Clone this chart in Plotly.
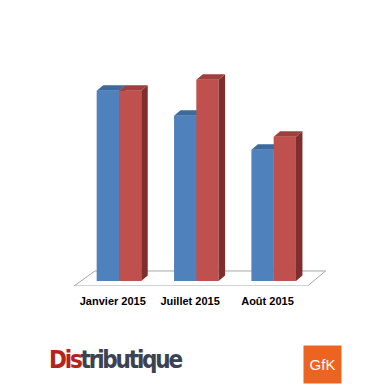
import plotly.graph_objects as go

# ---- data ----
categories = ["Janvier 2015", "Juillet 2015", "Août 2015"]
blue_values = [190, 165, 131]
red_values = [190, 201, 144]

# ---- style / geometry constants ----
BLUE_FRONT, BLUE_TOP, BLUE_SIDE = "#4F81BD", "#3D6A9E", "#385D8A"
RED_FRONT, RED_TOP, RED_SIDE = "#C0504D", "#A03F3C", "#7E2F2D"
W = 0.288      # bar width (category units)
DX = 0.084     # 3D depth in x (category units)
DY = 5.5       # 3D depth in y (value units)
XR = [-1.538, 3.478]
YR = [-5, 280.7]
H_PX, B_MARGIN = 388, 102.3

xs = list(range(len(categories)))


def faces(values, offset):
    tops_x, tops_y, side_x, side_y = [], [], [], []
    for x, v in zip(xs, values):
        x0 = x + offset
        x1 = x0 + W
        tops_x += [x0, x0 + DX, x1 + DX, x1, x0, None]
        tops_y += [v, v + DY, v + DY, v, v, None]
        side_x += [x1, x1, x1 + DX, x1 + DX, x1, None]
        side_y += [0, v, v + DY, DY, 0, None]
    return tops_x, tops_y, side_x, side_y


fig = go.Figure()


def add_series(values, offset, front, top, side, xa, ya):
    tx, ty, sx, sy = faces(values, offset)
    fig.add_trace(go.Bar(x=xs, y=values, width=W, offset=offset,
                         marker=dict(color=front, line=dict(width=0)),
                         xaxis=xa, yaxis=ya, showlegend=False, hoverinfo="y"))
    fig.add_trace(go.Scatter(x=sx, y=sy, fill="toself", fillcolor=side,
                             mode="lines", line=dict(width=0, color=side),
                             xaxis=xa, yaxis=ya, showlegend=False, hoverinfo="skip"))
    fig.add_trace(go.Scatter(x=tx, y=ty, fill="toself", fillcolor=top,
                             mode="lines", line=dict(width=0, color=top),
                             xaxis=xa, yaxis=ya, showlegend=False, hoverinfo="skip"))


add_series(blue_values, -W, BLUE_FRONT, BLUE_TOP, BLUE_SIDE, "x", "y")
add_series(red_values, 0, RED_FRONT, RED_TOP, RED_SIDE, "x2", "y2")

# floor (3D base plane)
n = len(categories) - 1
fl = [(-0.582, -5), (n + 0.437, -5), (n + 0.672, 10), (-0.310, 10)]
path = "M " + " L ".join(f"{x},{y}" for x, y in fl) + " Z"
fig.add_shape(type="path", path=path, xref="x", yref="y", layer="below",
              line=dict(color="#A6A6A6", width=1), fillcolor="white")


def py(pix):
    plot_h = H_PX - B_MARGIN
    return (plot_h - pix) / plot_h


fig.add_annotation(
    text="<span style='color:#B3241A;font-stretch:condensed;letter-spacing:-2.2px'>Dis</span>"
         "<span style='color:#3B4252;font-stretch:condensed;letter-spacing:-2.2px'>tributique</span>",
    xref="paper", yref="paper", x=47 / 388, y=py(360), xanchor="left", yanchor="middle",
    showarrow=False,
    font=dict(family="Liberation Sans Narrow, DejaVu Sans Condensed, DejaVu Sans, sans-serif",
              size=24, weight="bold"))
fig.add_annotation(
    text="GfK", xref="paper", yref="paper", x=322.7 / 388, y=py(364),
    xanchor="center", yanchor="middle", showarrow=False,
    width=37, height=37, bgcolor="#EC6420", borderpad=0,
    font=dict(family="Liberation Sans, Arial, sans-serif", size=15, color="white"))

axis_common = dict(showgrid=False, zeroline=False, showline=False)
fig.update_layout(
    width=388, height=388, autosize=False,
    margin=dict(l=0, r=0, t=0, b=B_MARGIN),
    paper_bgcolor="white", plot_bgcolor="rgba(0,0,0,0)",
    xaxis=dict(range=XR, tickvals=[x - 0.08 for x in xs], ticktext=categories,
               ticks="outside", ticklen=5, tickcolor="rgba(0,0,0,0)",
               tickfont=dict(family="Liberation Sans, Arial, sans-serif", size=11,
                             color="black", weight="bold"), **axis_common),
    yaxis=dict(range=YR, visible=False, **axis_common),
    xaxis2=dict(range=XR, overlaying="x", visible=False, **axis_common),
    yaxis2=dict(range=YR, overlaying="y", visible=False, **axis_common),
    showlegend=False,
)

fig.write_html("out.html", config={"displayModeBar": False},
               post_script="document.body.style.margin='0';")
